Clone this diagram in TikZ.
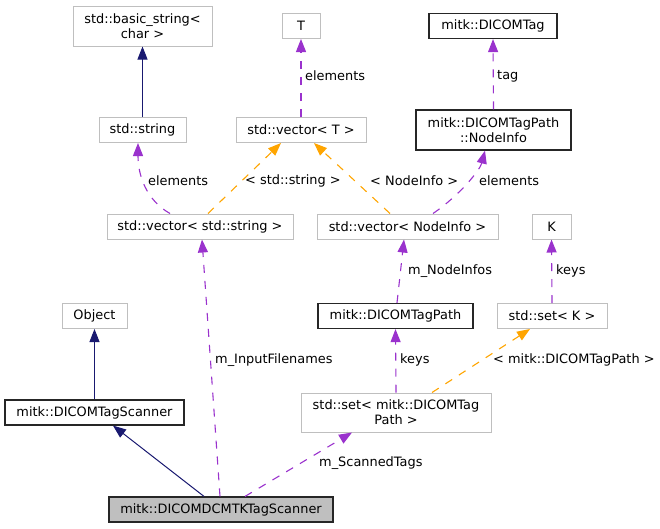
\documentclass[tikz,border=0pt]{standalone}
\usepackage{fontspec}
\setmainfont{DejaVu Sans}
\usetikzlibrary{arrows.meta}
\definecolor{navyc}{HTML}{191970}
\definecolor{purplec}{HTML}{9A32CD}
\definecolor{orangec}{HTML}{FFA500}
\definecolor{grayb}{HTML}{BFBFBF}
\definecolor{fillg}{HTML}{BFBFBF}
\begin{document}
\begin{tikzpicture}[x=1pt,y=-1pt,
  every node/.style={font=\fontsize{12.9}{15}\selectfont, inner sep=0pt},
  cls/.style={draw=grayb, line width=1pt, rectangle, align=center, minimum height=25pt},
  clsb/.style={draw=black!85, line width=1.2pt, rectangle, align=center, minimum height=25pt},
  inh/.style={color=navyc, line width=1pt, -{Triangle[length=13pt,width=10pt]}},
  usage/.style={color=purplec, line width=1.1pt, dash pattern=on 8pt off 8pt, -{Triangle[length=13pt,width=10pt]}},
  tmpl/.style={color=orangec, line width=1.1pt, dash pattern=on 8pt off 8pt, -{Triangle[length=13pt,width=10pt]}},
  lbl/.style={anchor=west, inner sep=0pt}]
\useasboundingbox (0,0) rectangle (660,528);
% nodes
\node[cls, minimum width=139pt, minimum height=40pt] (bstr) at (142.5,26) {std::basic\_string<\\char >};
\node[cls, minimum width=38pt] (T) at (301,26) {T};
\node[clsb, minimum width=128pt] (dtag) at (493,26) {mitk::DICOMTag};
\node[cls, minimum width=87pt] (str) at (142.5,130) {std::string};
\node[cls, minimum width=130pt] (vecT) at (301,130) {std::vector< T >};
\node[clsb, minimum width=155pt, minimum height=40pt] (ninfo) at (493.5,130) {mitk::DICOMTagPath\\::NodeInfo};
\node[cls, minimum width=186pt] (vecs) at (200,226.5) {std::vector< std::string >};
\node[cls, minimum width=181pt] (vecn) at (407.5,226.5) {std::vector< NodeInfo >};
\node[cls, minimum width=39pt] (K) at (551.5,226.5) {K};
\node[cls, minimum width=65pt] (obj) at (94.5,316) {Object};
\node[clsb, minimum width=155pt] (dtp) at (395.5,316) {mitk::DICOMTagPath};
\node[cls, minimum width=110pt] (setK) at (552,316) {std::set< K >};
\node[clsb, minimum width=179pt] (scan) at (94.5,412.5) {mitk::DICOMTagScanner};
\node[cls, minimum width=190pt, minimum height=39pt] (setp) at (396,412.5) {std::set< mitk::DICOMTag\\Path >};
\node[clsb, fill=fillg, minimum width=224pt] (dcmtk) at (221,509.5) {mitk::DICOMDCMTKTagScanner};
% edges
\draw[inh] (str.north) -- (bstr.south);
\draw[usage] (vecT.north) -- (T.south);
\node[lbl] (l1) at (305,76) {elements};
\draw[usage] (ninfo.north) -- (dtag.south);
\node[lbl] (l2) at (497,76) {tag};
\draw[usage] ([xshift=-30pt]vecs.north) .. controls (146,200) and (138,175) .. ([xshift=-4.5pt]str.south);
\node[lbl] (l3) at (148,181) {elements};
\draw[tmpl] ([xshift=8pt]vecs.north) -- ([xshift=-20pt]vecT.south);
\node[lbl] (l4) at (245,181) {< std::string >};
\draw[tmpl] ([xshift=-17.5pt]vecn.north) -- ([xshift=13pt]vecT.south);
\node[lbl] (l5) at (370,181) {< NodeInfo >};
\draw[usage] ([xshift=25.5pt]vecn.north) .. controls (460,195) and (480,170) .. ([xshift=-8.5pt]ninfo.south);
\node[lbl] (l6) at (479,181) {elements};
\draw[usage] ([xshift=1.5pt]dtp.north) -- ([xshift=-3.5pt]vecn.south);
\node[lbl] (l7) at (408,271) {m\_NodeInfos};
\draw[usage] (setK.north) -- (K.south);
\node[lbl] (l8) at (556,271) {keys};
\draw[inh] (scan.north) -- (obj.south);
\draw[usage] ([xshift=-1pt]dcmtk.north) -- ([xshift=2pt]vecs.south);
\node[lbl] (l9) at (215,360) {m\_InputFilenames};
\draw[inh] ([xshift=-17pt]dcmtk.north) -- ([xshift=18.5pt]scan.south);
\draw[usage] ([xshift=24pt]dcmtk.north) -- ([xshift=-44pt]setp.south);
\node[lbl] (l10) at (319,463) {m\_ScannedTags};
\draw[usage] (setp.north) -- (dtp.south);
\node[lbl] (l11) at (400,360) {keys};
\draw[tmpl] ([xshift=36pt]setp.north) -- ([xshift=-22pt]setK.south);
\node[lbl] (l12) at (493,360) {< mitk::DICOMTagPath >};
\end{tikzpicture}
\end{document}
